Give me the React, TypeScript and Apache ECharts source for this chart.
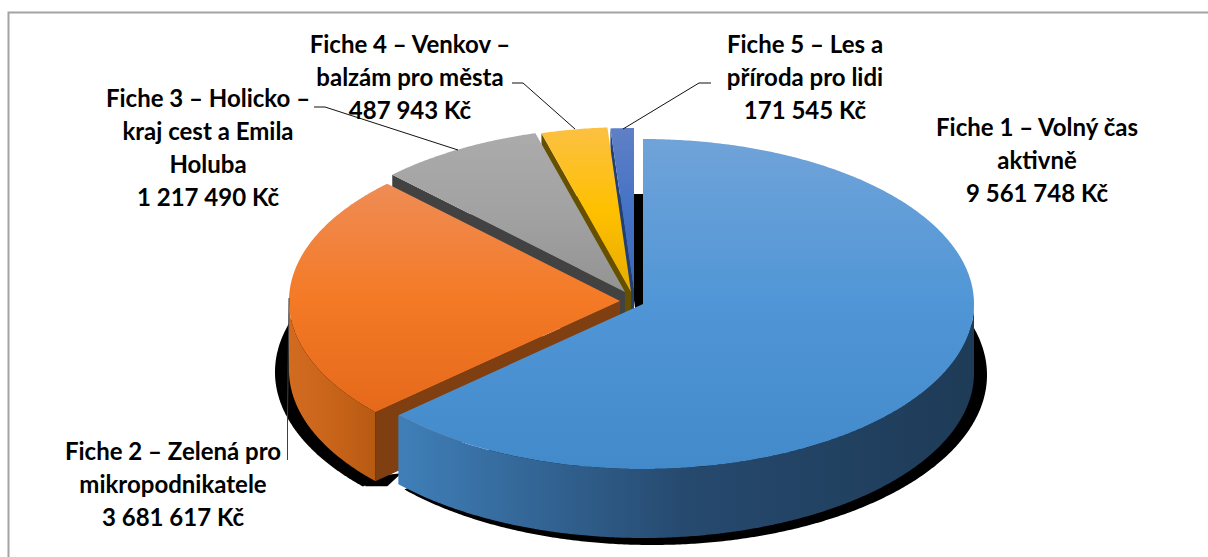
import React, { useEffect, useRef } from "react";
import * as echarts from "echarts";

const categories = [
  "Fiche 1 – Volný čas aktivně",
  "Fiche 2 – Zelená pro mikropodnikatele",
  "Fiche 3 – Holicko – kraj cest a Emila Holuba",
  "Fiche 4 – Venkov – balzám pro města",
  "Fiche 5 – Les a příroda pro lidi",
];
const values = [9561748, 3681617, 1217490, 487943, 171545];
const labelLines = [
  ["Fiche 1 – Volný čas", "aktivně"],
  ["Fiche 2 – Zelená pro", "mikropodnikatele"],
  ["Fiche 3 – Holicko –", "kraj cest a Emila", "Holuba"],
  ["Fiche 4 – Venkov –", "balzám pro města"],
  ["Fiche 5 – Les a", "příroda pro lidi"],
];

// geometry of the tilted pie
const RX = 331;
const RY = 165;
const DEPTH = 69;
const apexes = [[643, 304], [620, 301], [625, 292], [631, 292], [634, 293]];
const shadowApexes = [[652, 375], [612, 372], [634, 363], [640, 363], [643, 364]];
const SHADOW_RX = [335, 337, 335, 335, 335];
const SHADOW_RY = 170;

const faceColors = [
  ["#70a3d9", "#5096d6", "#438aca"],
  ["#ef8c55", "#f47a26", "#e5691a"],
  ["#ababab", "#a2a2a2", "#939393"],
  ["#fcc043", "#ffc000", "#e6ac00"],
  ["#5f80c6", "#4472c4", "#3b66b6"],
];
const wallColors = [
  ["#3f7fb9", "#26496e", "#1e3b57"],
  ["#d26b20", "#c8641a", "#b85a12"],
  ["#404040", "#404040", "#404040"],
  ["#6b5300", "#665000", "#5f4a00"],
  ["#1f3864", "#1f3864", "#1f3864"],
];
const radialWallColors = ["#26496e", "#7f3f10", "#424242", "#665000", "#23406f"];

const labelCenters = [[1037, 159], [173, 483], [208, 147], [410, 76], [805, 76]];
const leaders: (number[][] | null)[] = [
  null,
  [[287.5, 460], [287.5, 415], [289, 298]],
  [[314, 107], [325, 107], [458, 150]],
  [[512, 83], [523, 83], [575, 129]],
  [[711, 83], [699, 83], [623, 129]],
];

const total = values.reduce((a, b) => a + b, 0);
const startAngles: number[] = [];
values.reduce((acc, v, i) => {
  startAngles[i] = acc;
  return acc + (v / total) * 360;
}, 0);
const endAngle = (i: number) => startAngles[i] + (values[i] / total) * 360;

const fmt = (v: number) => String(v).replace(/\B(?=(\d{3})+$)/g, " ") + " Kč";

const pt = (a: number[], deg: number, rx: number, ry: number, dy = 0) => {
  const r = (deg * Math.PI) / 180;
  return [a[0] + Math.sin(r) * rx, a[1] - Math.cos(r) * ry + dy];
};
const arc = (a: number[], from: number, to: number, rx: number, ry: number, dy = 0) => {
  const out: number[][] = [];
  const n = Math.max(2, Math.ceil(Math.abs(to - from) * 2));
  for (let k = 0; k <= n; k++) out.push(pt(a, from + ((to - from) * k) / n, rx, ry, dy));
  return out;
};
const grad = (horizontal: boolean, c: string[]) =>
  new echarts.graphic.LinearGradient(0, 0, horizontal ? 1 : 0, horizontal ? 0 : 1, [
    { offset: 0, color: c[0] },
    { offset: 0.5, color: c[1] },
    { offset: 1, color: c[2] },
  ]);

const order = [4, 3, 2, 1, 0];

export default function App() {
  const ref = useRef<HTMLDivElement>(null);
  useEffect(() => {
    const chart = echarts.init(ref.current!, undefined, { renderer: "svg" });
    const seriesData = order.map((i) => ({ name: categories[i], value: values[i] }));
    chart.setOption({
      animation: false,
      backgroundColor: "#ffffff",
      graphic: [
        {
          type: "polyline",
          silent: true,
          shape: { points: [[8.5, 557], [8.5, 12.5], [1208, 12.5]] },
          style: { stroke: "#a3a3a3", lineWidth: 2, fill: "none" },
        },
      ],
      series: [
        {
          type: "custom",
          coordinateSystem: "none",
          z: 1,
          data: seriesData,
          renderItem: (p: any) => {
            const i = order[p.dataIndex];
            const a = shadowApexes[i];
            const pts = [a, ...arc(a, startAngles[i], endAngle(i), SHADOW_RX[i], SHADOW_RY)];
            const children: any[] = [
              { type: "polygon", shape: { points: pts }, style: { fill: "#000" } },
            ];
            if (i === 1) {
              const c = pt(apexes[i], startAngles[i], RX, RY, DEPTH);
              children.push({
                type: "polygon",
                shape: {
                  points: [
                    [c[0] - 12, c[1] - 4],
                    [c[0] - 10, c[1] + 5],
                    [c[0] + 12, c[1] + 5],
                    [c[0] + 26, c[1] - 8],
                  ],
                },
                style: { fill: "#000" },
              });
            }
            return { type: "group", children };
          },
        },
        {
          type: "custom",
          coordinateSystem: "none",
          z: 2,
          data: seriesData,
          renderItem: (p: any) => {
            const i = order[p.dataIndex];
            const a = apexes[i];
            const s = startAngles[i];
            const e = endAngle(i);
            const children: any[] = [];
            if (s > 180 && s < 360) {
              const c = pt(a, s, RX, RY);
              children.push({
                type: "polygon",
                shape: { points: [a, c, [c[0], c[1] + DEPTH], [a[0], a[1] + DEPTH]] },
                style: { fill: radialWallColors[i] },
              });
            }
            const wFrom = Math.max(s, 90);
            const wTo = Math.min(e, 270);
            if (wTo > wFrom) {
              const top = arc(a, wFrom, wTo, RX, RY);
              const bottom = arc(a, wFrom, wTo, RX, RY, DEPTH).reverse();
              children.push({
                type: "polygon",
                shape: { points: [...top, ...bottom] },
                style: { fill: grad(true, wallColors[i]) },
              });
            }
            children.push({
              type: "polygon",
              shape: { points: [a, ...arc(a, s, e, RX, RY)] },
              style: { fill: grad(false, faceColors[i]) },
            });
            return { type: "group", children };
          },
        },
        {
          type: "custom",
          coordinateSystem: "none",
          z: 3,
          data: categories.map((name, i) => ({ name, value: values[i] })),
          renderItem: (p: any, api: any) => {
            const i = p.dataIndex;
            const children: any[] = [];
            const l = leaders[i];
            if (l) {
              children.push({
                type: "polyline",
                shape: { points: l },
                style: { stroke: i === 1 ? "#404040" : "#111", lineWidth: 1, fill: "none" },
              });
            }
            children.push({
              type: "text",
              x: labelCenters[i][0],
              y: labelCenters[i][1],
              style: {
                text: [...labelLines[i], fmt(api.value(0))].join("\n"),
                fontFamily: "Lato",
                fontWeight: "bold",
                fontSize: 24,
                lineHeight: 33,
                fill: "#000",
                align: "center",
                verticalAlign: "middle",
              },
            });
            return { type: "group", children };
          },
        },
      ],
    });
    return () => chart.dispose();
  }, []);
  return (
    <div
      ref={ref}
      style={{ position: "fixed", left: 0, top: 0, width: 1208, height: 557, background: "#fff" }}
    />
  );
}
